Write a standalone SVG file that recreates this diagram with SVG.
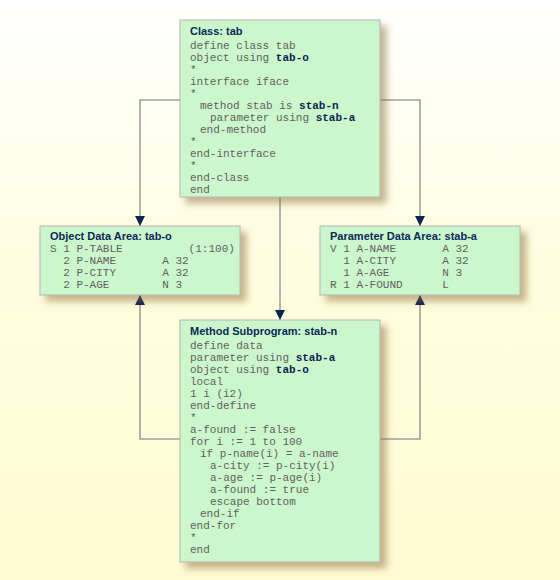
<svg xmlns="http://www.w3.org/2000/svg" width="560" height="580" viewBox="0 0 560 580">
<defs>
<linearGradient id="bg" x1="0" y1="0" x2="0" y2="1">
<stop offset="0" stop-color="#ffffff"/>
<stop offset="0.45" stop-color="#fffde0"/>
<stop offset="1" stop-color="#fffbd3"/>
</linearGradient>
<filter id="sh" x="-10%" y="-10%" width="130%" height="130%">
<feDropShadow dx="6" dy="6" stdDeviation="3.5" flood-color="#8a6a30" flood-opacity="0.5"/>
</filter>
<marker id="ah" viewBox="0 0 10 10" refX="10" refY="5" markerWidth="10" markerHeight="10" markerUnits="userSpaceOnUse" orient="auto">
<path d="M0,0 L10,5 L0,10 Z" fill="#0a2550"/>
</marker>
<style>
.box{fill:#ccf7cc;stroke:#b4b4b4;stroke-width:1;filter:url(#sh)}
.t{font-family:"Liberation Sans",Arial,sans-serif;font-size:11px;font-weight:bold;fill:#0a2a5a}
.c{font-family:"Liberation Mono","Courier New",monospace;font-size:11px;fill:#606060;white-space:pre}
.k{font-weight:bold;fill:#0a2550}
.ln{fill:none;stroke:#a0a0a0;stroke-width:1.6;marker-end:url(#ah)}
</style>
</defs>
<rect width="560" height="580" fill="url(#bg)"/>
<g id="connectors">
<path class="ln" d="M180,100 H140 V226"/>
<path class="ln" d="M380,100 H420 V226"/>
<path class="ln" d="M280,197 V320"/>
<path class="ln" d="M180,439 H140 V295"/>
<path class="ln" d="M380,439 H420 V295"/>
</g>
<g id="class-tab">
<rect class="box" x="180" y="20" width="200" height="177"/>
<text class="t" x="190" y="35">Class: tab</text>
<text class="c" x="190" y="49">define class tab</text>
<text class="c" x="190" y="61">object using <tspan class="k">tab-o</tspan></text>
<text class="c" x="190" y="73">*</text>
<text class="c" x="190" y="85">interface iface</text>
<text class="c" x="190" y="97">*</text>
<text class="c" x="200" y="109">method stab is <tspan class="k">stab-n</tspan></text>
<text class="c" x="210" y="121">parameter using <tspan class="k">stab-a</tspan></text>
<text class="c" x="200" y="133">end-method</text>
<text class="c" x="190" y="145">*</text>
<text class="c" x="190" y="157">end-interface</text>
<text class="c" x="190" y="169">*</text>
<text class="c" x="190" y="181">end-class</text>
<text class="c" x="190" y="193">end</text>
</g>
<g id="object-data-area">
<rect class="box" x="40" y="226" width="200" height="69"/>
<text class="t" x="50" y="240">Object Data Area: tab-o</text>
<text class="c" x="50" y="252">S 1 P-TABLE          (1:100)</text>
<text class="c" x="50" y="264">  2 P-NAME       A 32</text>
<text class="c" x="50" y="276">  2 P-CITY       A 32</text>
<text class="c" x="50" y="288">  2 P-AGE        N 3</text>
</g>
<g id="parameter-data-area">
<rect class="box" x="320" y="226" width="200" height="69"/>
<text class="t" x="330" y="240">Parameter Data Area: stab-a</text>
<text class="c" x="330" y="252">V 1 A-NAME       A 32</text>
<text class="c" x="330" y="264">  1 A-CITY       A 32</text>
<text class="c" x="330" y="276">  1 A-AGE        N 3</text>
<text class="c" x="330" y="288">R 1 A-FOUND      L</text>
</g>
<g id="method-subprogram">
<rect class="box" x="180" y="320" width="200" height="242"/>
<text class="t" x="190" y="335">Method Subprogram: stab-n</text>
<text class="c" x="190" y="349">define data</text>
<text class="c" x="190" y="361">parameter using <tspan class="k">stab-a</tspan></text>
<text class="c" x="190" y="373">object using <tspan class="k">tab-o</tspan></text>
<text class="c" x="190" y="385">local</text>
<text class="c" x="190" y="397">1 i (i2)</text>
<text class="c" x="190" y="409">end-define</text>
<text class="c" x="190" y="421">*</text>
<text class="c" x="190" y="433">a-found := false</text>
<text class="c" x="190" y="445">for i := 1 to 100</text>
<text class="c" x="200" y="457">if p-name(i) = a-name</text>
<text class="c" x="210" y="469">a-city := p-city(i)</text>
<text class="c" x="210" y="481">a-age := p-age(i)</text>
<text class="c" x="210" y="493">a-found := true</text>
<text class="c" x="210" y="505">escape bottom</text>
<text class="c" x="200" y="517">end-if</text>
<text class="c" x="190" y="529">end-for</text>
<text class="c" x="190" y="541">*</text>
<text class="c" x="190" y="553">end</text>
</g>
</svg>
